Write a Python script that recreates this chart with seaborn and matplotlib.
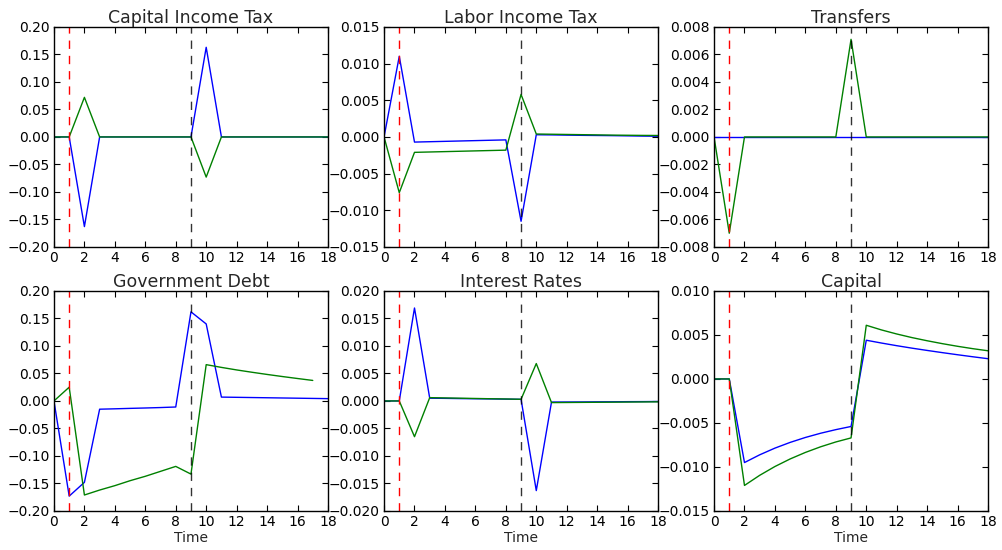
import numpy as np
import pandas as pd
import matplotlib
matplotlib.use("Agg")
import matplotlib.pyplot as plt
import seaborn as sns

# Horizon
time = list(range(19))

# Capital income tax responses
cap_tax_blue = [0, 0, -0.163, 0, 0, 0, 0, 0, 0, 0, 0.163, 0, 0, 0, 0, 0, 0, 0, 0]
cap_tax_green = [0, 0, 0.072, 0, 0, 0, 0, 0, 0, 0, -0.073, 0, 0, 0, 0, 0, 0, 0, 0]

# Labor income tax responses
lab_tax_blue = [0, 0.0110, -0.0007, -0.00065, -0.0006, -0.00055, -0.0005, -0.00045, -0.0004,
                -0.0115, 0.0003, 0.00028, 0.00025, 0.00022, 0.0002, 0.00018, 0.00015, 0.00012, 0.0001]
lab_tax_green = [0, -0.0076, -0.0021, -0.00205, -0.002, -0.00195, -0.0019, -0.00185, -0.0018,
                 0.0058, 0.0004, 0.00037, 0.00034, 0.00031, 0.00028, 0.00025, 0.00023, 0.00021, 0.0002]

# Transfers
transfers_blue = [0] * 19
transfers_green = [0, -0.0070, 0, 0, 0, 0, 0, 0, 0, 0.0071, 0, 0, 0, 0, 0, 0, 0, 0, 0]

# Government debt
debt_blue = [0, -0.173, -0.148, -0.015, -0.0143, -0.0135, -0.0128, -0.012, -0.011,
             0.162, 0.140, 0.007, 0.0066, 0.0062, 0.0058, 0.0054, 0.005, 0.0046, 0.0042]
time_debt_green = list(range(18))
debt_green = [0, 0.025, -0.171, -0.162, -0.154, -0.145, -0.137, -0.128, -0.119,
              -0.133, 0.066, 0.061, 0.0564, 0.0522, 0.0482, 0.0444, 0.0408, 0.0373]

# Interest rates
rate_blue = [0, 0, 0.0169, 0.0005, 0.00047, 0.00043, 0.0004, 0.00037, 0.00033,
             0.0003, -0.0163, -0.0002, -0.00019, -0.00018, -0.00016, -0.00015, -0.00013, -0.00012, -0.0001]
rate_green = [0, 0, -0.0065, 0.0006, 0.00055, 0.0005, 0.00045, 0.0004, 0.00036,
              0.0003, 0.0068, -0.0003, -0.00028, -0.00026, -0.00024, -0.00022, -0.0002, -0.00018, -0.00016]

# Capital stock
capital_blue = [0, 0, -0.0095, -0.00862, -0.00786, -0.00721, -0.00665, -0.00617, -0.00576,
                -0.0054, 0.0044, 0.00408, 0.00378, 0.0035, 0.00324, 0.00299, 0.00275, 0.00252, 0.0023]
capital_green = [0, 0, -0.0121, -0.01095, -0.00995, -0.00909, -0.00835, -0.00771, -0.00716,
                 -0.0067, 0.0061, 0.00557, 0.00511, 0.0047, 0.00434, 0.00401, 0.00371, 0.00344, 0.0032]

titles = ["Capital Income Tax", "Labor Income Tax", "Transfers",
          "Government Debt", "Interest Rates", "Capital"]
ylims = [(-0.2, 0.2), (-0.015, 0.015), (-0.008, 0.008),
         (-0.2, 0.2), (-0.02, 0.02), (-0.015, 0.010)]
yticks = [np.arange(-0.2, 0.2001, 0.05), np.arange(-0.015, 0.01501, 0.005),
          np.arange(-0.008, 0.00801, 0.002), np.arange(-0.2, 0.2001, 0.05),
          np.arange(-0.02, 0.02001, 0.005), np.arange(-0.015, 0.01001, 0.005)]
ytick_fmt = ["%.2f", "%.3f", "%.3f", "%.2f", "%.3f", "%.3f"]
series = [
    ((time, cap_tax_blue), (time, cap_tax_green)),
    ((time, lab_tax_blue), (time, lab_tax_green)),
    ((time, transfers_blue), (time, transfers_green)),
    ((time, debt_blue), (time_debt_green, debt_green)),
    ((time, rate_blue), (time, rate_green)),
    ((time, capital_blue), (time, capital_green)),
]

sns.set_theme(style="white")
plt.rcParams.update({
    "font.family": ["DejaVu Sans"],
    "axes.edgecolor": "black",
    "axes.linewidth": 1.0,
    "xtick.direction": "in",
    "ytick.direction": "in",
    "xtick.top": True,
    "ytick.right": True,
    "xtick.bottom": True,
    "ytick.left": True,
    "xtick.major.size": 4,
    "ytick.major.size": 4,
    "xtick.major.width": 0.8,
    "ytick.major.width": 0.8,
    "xtick.color": "black",
    "ytick.color": "black",
    "xtick.labelsize": 10,
    "ytick.labelsize": 10,
})

fig = plt.figure(figsize=(10.03, 5.5), dpi=100)
lefts = [0.0538, 0.3829, 0.7119]
bottoms = [0.551, 0.071]
width, height = 0.2732, 0.400

for i, title in enumerate(titles):
    row, col = divmod(i, 3)
    ax = fig.add_axes([lefts[col], bottoms[row], width, height])
    (xb, yb), (xg, yg) = series[i]
    sns.lineplot(x=xb, y=yb, color="#0000ff", lw=1.0, ax=ax)
    sns.lineplot(x=xg, y=yg, color="#008000", lw=1.0, ax=ax)
    ax.axvline(1, color="red", ls="--", lw=1.0, dashes=(6, 5))
    ax.axvline(9, color="black", ls="--", lw=1.0, dashes=(6, 5), alpha=0.8)
    ax.set_xlim(0, 18)
    ax.set_xticks(range(0, 19, 2))
    ax.set_ylim(*ylims[i])
    ax.set_yticks(yticks[i])
    fmt = ytick_fmt[i]
    ax.set_yticklabels([(fmt % v).replace("-", "\u2212") if abs(v) > 1e-12 else fmt % 0
                        for v in yticks[i]])
    ax.set_title(title, fontsize=12.5, pad=3)
    ax.tick_params(pad=3)
    if row == 1:
        ax.set_xlabel("Time", fontsize=10, labelpad=1)
    else:
        ax.set_xlabel("")
    ax.set_ylabel("")
    for s in ax.spines.values():
        s.set_visible(True)
        s.set_color("black")

fig.savefig("out.png", dpi=100)
